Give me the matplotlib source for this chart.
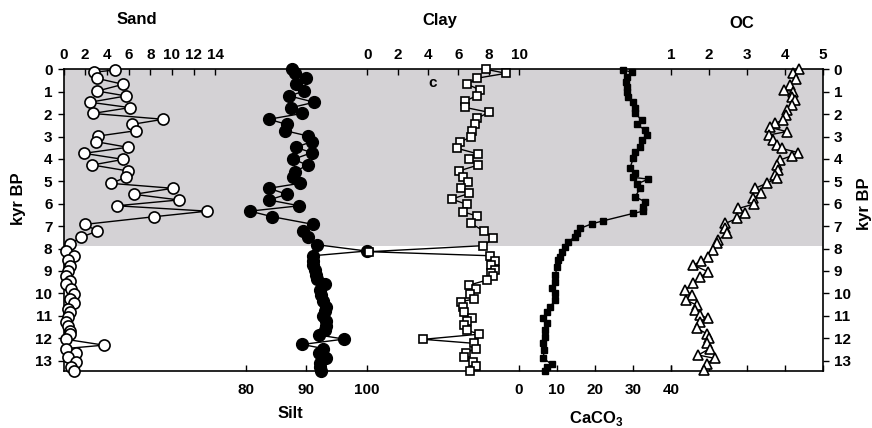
import numpy as np
import matplotlib.pyplot as plt

plt.rcParams['font.family'] = ['Liberation Sans', 'DejaVu Sans']
plt.rcParams['font.weight'] = 'bold'
plt.rcParams['mathtext.fontset'] = 'custom'
plt.rcParams['mathtext.bf'] = 'Liberation Sans:bold'
plt.rcParams['mathtext.rm'] = 'Liberation Sans:bold'

# ---- data (age in kyr BP, values in %) ----
sand_age = [0.03, 0.13, 0.40, 0.67, 0.97, 1.19, 1.47, 1.71, 1.97, 2.23, 2.46, 2.74, 2.98,
            3.23, 3.48, 3.75, 4.02, 4.27, 4.54, 4.82, 5.09, 5.31, 5.58, 5.83, 6.09, 6.33,
            6.58, 6.92, 7.22, 7.50, 7.81, 8.10, 8.33, 8.51, 8.77, 9.00, 9.23, 9.44, 9.60,
            9.82, 10.03, 10.25, 10.45, 10.70, 10.85, 11.04, 11.27, 11.46, 11.67, 11.82,
            12.05, 12.31, 12.46, 12.65, 12.86, 13.05, 13.28, 13.46]
sand = [4.75, 2.84, 3.06, 5.5, 3.12, 5.76, 2.44, 6.13, 2.69, 9.2, 6.29, 6.68, 3.18,
        3.0, 5.92, 1.89, 5.51, 2.66, 5.98, 5.76, 4.38, 10.07, 6.5, 10.65, 4.9, 13.26,
        8.34, 1.98, 3.12, 1.58, 0.6, 0.23, 0.97, 0.39, 0.6, 0.39, 0.2, 0.6, 0.23,
        0.69, 0.97, 0.57, 0.97, 0.45, 0.6, 0.45, 0.2, 0.45, 0.6, 0.6,
        0.23, 3.73, 0.23, 1.15, 0.45, 1.15, 0.69, 0.97]

silt_age = [0.0, 0.15, 0.40, 0.67, 0.97, 1.19, 1.47, 1.71, 1.97, 2.23, 2.46, 2.74, 2.98,
            3.23, 3.48, 3.72, 4.02, 4.27, 4.57, 4.82, 5.09, 5.31, 5.58, 5.83, 6.09, 6.33,
            6.58, 6.92, 7.22, 7.50, 7.83, 8.11, 8.32, 8.54, 8.74, 8.96, 9.18, 9.38, 9.60,
            9.85, 10.08, 10.33, 10.60, 10.79, 11.01, 11.24, 11.46, 11.64, 11.86, 12.04,
            12.28, 12.46, 12.65, 12.87, 13.10, 13.30, 13.47]
silt = [87.6, 88.1, 89.9, 88.3, 89.6, 87.2, 91.3, 87.5, 89.3, 83.8, 86.8, 86.5, 90.3,
        90.9, 88.2, 90.9, 87.8, 90.2, 88.1, 87.8, 88.9, 83.8, 86.8, 83.8, 88.8, 80.7,
        84.4, 91.1, 89.4, 90.3, 91.8, 99.9, 91.1, 91.1, 91.0, 91.4, 91.6, 91.8, 93.1,
        92.2, 92.4, 92.7, 93.2, 93.1, 92.8, 93.2, 93.2, 93.1, 92.1, 96.2,
        89.3, 92.8, 92.1, 93.3, 92.2, 92.2, 92.4]

clay_age = [0.0, 0.18, 0.40, 0.67, 0.92, 1.18, 1.42, 1.70, 1.92, 2.19, 2.46, 2.74, 3.01,
            3.26, 3.53, 3.78, 4.02, 4.27, 4.53, 4.79, 5.05, 5.29, 5.54, 5.79, 6.03, 6.36,
            6.54, 6.88, 7.22, 7.55, 7.87, 8.14, 8.32, 8.56, 8.74, 8.96, 9.11, 9.21, 9.41,
            9.63, 9.82, 10.03, 10.25, 10.37, 10.60, 10.82, 11.09, 11.24, 11.42, 11.64,
            11.82, 12.05, 12.23, 12.46, 12.65, 12.83, 13.08, 13.25, 13.47]
clay = [7.83, 9.14, 7.21, 6.6, 7.43, 7.21, 6.44, 6.44, 8.02, 7.21, 7.1, 6.92, 6.82,
        6.11, 5.94, 7.32, 6.71, 7.32, 6.07, 6.33, 6.66, 6.18, 6.71, 5.57, 6.55, 6.29,
        7.21, 6.84, 7.69, 8.31, 7.65, 0.12, 8.09, 8.42, 8.13, 8.42, 8.13, 8.31, 7.87,
        6.71, 7.17, 6.77, 7.04, 6.18, 6.29, 6.4, 6.88, 6.55, 6.4, 6.55,
        7.38, 3.7, 7.06, 7.15, 6.48, 6.38, 6.95, 7.17, 6.77]

caco3_age = [0.03, 0.13, 0.33, 0.55, 0.77, 1.0, 1.22, 1.47, 1.71, 1.97, 2.26, 2.46, 2.71,
             2.93, 3.16, 3.45, 3.68, 3.97, 4.42, 4.64, 4.82, 4.90, 5.12, 5.31, 5.69, 5.91,
             6.13, 6.33, 6.43, 6.76, 6.90, 7.10, 7.32, 7.47, 7.70, 7.92, 8.14, 8.37, 8.51,
             8.81, 9.18, 9.48, 9.78, 10.0, 10.3, 10.6, 10.82, 11.12, 11.34, 11.64, 11.94,
             12.23, 12.53, 12.90, 13.16, 13.30, 13.46]
caco3 = [27.5, 29.7, 28.4, 28.1, 28.5, 28.4, 28.8, 30.1, 30.6, 30.6, 32.3, 31.0, 33.2,
         33.6, 32.3, 31.9, 30.6, 30.1, 29.2, 30.6, 29.9, 34.1, 31.0, 31.9, 30.6, 33.2,
         32.7, 32.7, 30.1, 22.2, 19.1, 16.1, 15.2, 14.7, 13.0, 12.1, 11.2, 10.8, 10.4,
         10.1, 9.5, 9.5, 8.6, 9.5, 9.5, 8.2, 7.3, 6.4, 7.3, 6.9, 6.9,
         6.4, 6.6, 6.4, 8.6, 7.3, 6.9]

oc_age = [0.0, 0.18, 0.43, 0.70, 0.92, 1.0, 1.22, 1.37, 1.59, 1.82, 2.04, 2.26, 2.41,
          2.59, 2.78, 2.93, 3.16, 3.38, 3.53, 3.72, 3.86, 4.05, 4.27, 4.50, 4.72, 4.87,
          5.09, 5.31, 5.54, 5.76, 6.01, 6.21, 6.43, 6.65, 6.88, 7.10, 7.32, 7.62, 7.77,
          8.07, 8.37, 8.56, 8.74, 9.04, 9.26, 9.55, 9.85, 10.08, 10.30, 10.52, 10.75,
          10.97, 11.12, 11.27, 11.56, 11.79, 12.01, 12.23, 12.46, 12.75, 12.90, 13.13, 13.43]
oc = [4.38, 4.23, 4.30, 4.14, 3.98, 4.23, 4.18, 4.27, 4.18, 4.07, 4.03, 3.96, 3.74,
      3.61, 4.05, 3.59, 3.68, 3.79, 3.92, 4.36, 4.18, 3.87, 3.79, 3.83, 3.74, 3.79,
      3.52, 3.22, 3.37, 3.17, 3.19, 2.78, 2.95, 2.75, 2.43, 2.43, 2.47, 2.25, 2.21,
      2.12, 1.99, 1.79, 1.59, 1.99, 1.77, 1.59, 1.37, 1.55, 1.40, 1.68, 1.64,
      1.77, 1.99, 1.77, 1.68, 1.94, 2.01, 1.94, 2.03, 1.72, 2.16, 1.94, 1.87]

holocene_end = 7.9
age_ticks = list(range(0, 14))

fig = plt.figure(figsize=(8.72, 4.28), dpi=100)
ax = fig.add_axes([63.5 / 872, 57.3 / 428, 759.2 / 872, 301.4 / 428])
ax.axhspan(0, holocene_end, color='#d4d2d5', lw=0, zorder=0)
ax.set_ylim(13.45, 0)
ax.set_xlim(0, 1)
ax.set_xticks([])
ax.set_yticks(age_ticks)
ax.tick_params(axis='y', left=True, right=True, labelleft=True, labelright=True,
               direction='out', length=4, width=1, labelsize=11, pad=4)
for s in ax.spines.values():
    s.set_linewidth(1.2)

tick_kw = dict(direction='in', length=4, width=1, labelsize=11)


def layer(xlim, x, y, **style):
    a = ax.twiny()
    a.set_xlim(*xlim)
    for s in a.spines.values():
        s.set_visible(False)
    a.plot(x, y, color='black', lw=1, clip_on=False, **style)
    return a


# Sand (top axis)
a = layer((0, 70), sand, sand_age, marker='o', ms=8, mfc='white', mec='black', mew=1.2)
a.set_xticks(range(0, 15, 2))
a.tick_params(axis='x', top=True, bottom=False, labeltop=True, labelbottom=False, pad=5, **tick_kw)

# Silt (bottom axis)
a = layer((50, 175), silt, silt_age, marker='o', ms=8.5, mfc='black', mec='black')
a.set_xticks([80, 90, 100])
a.tick_params(axis='x', top=False, bottom=True, labeltop=False, labelbottom=True, pad=9, **tick_kw)

# Clay (top axis)
a = layer((-20, 30), clay, clay_age, marker='s', ms=6, mfc='white', mec='black', mew=1.2)
a.set_xticks(range(0, 11, 2))
a.tick_params(axis='x', top=True, bottom=False, labeltop=True, labelbottom=False, pad=5, **tick_kw)

# CaCO3 (bottom axis)
a = layer((-120, 80), caco3, caco3_age, marker='s', ms=4.5, mfc='black', mec='black')
a.set_xticks(range(0, 41, 10))
a.tick_params(axis='x', top=False, bottom=True, labeltop=False, labelbottom=True, pad=9, **tick_kw)

# OC (top axis, ticks mirrored at bottom)
a = layer((-15, 5), oc, oc_age, marker='^', ms=7, mfc='white', mec='black', mew=1.2)
a.set_xticks(range(1, 6))
a.tick_params(axis='x', top=True, bottom=True, labeltop=True, labelbottom=False, pad=5, **tick_kw)

# titles and labels
fig.text(137 / 872, 1 - 20 / 428, 'Sand', ha='center', va='center', fontsize=12, fontweight='bold')
fig.text(440 / 872, 1 - 20 / 428, 'Clay', ha='center', va='center', fontsize=12, fontweight='bold')
fig.text(742 / 872, 1 - 24 / 428, 'OC', ha='center', va='center', fontsize=12, fontweight='bold')
fig.text(290 / 872, 1 - 413 / 428, 'Silt', ha='center', va='center', fontsize=12, fontweight='bold')
fig.text(596 / 872, 1 - 419 / 428, r'CaCO$_\mathbf{3}$', ha='center', va='center', fontsize=12,
         fontweight='bold')
fig.text(18 / 872, 1 - 199 / 428, 'kyr BP', ha='center', va='center', rotation=90, fontsize=12,
         fontweight='bold')
fig.text(864 / 872, 1 - 204 / 428, 'kyr BP', ha='center', va='center', rotation=90, fontsize=12,
         fontweight='bold')
fig.text(433 / 872, 1 - 83 / 428, 'c', ha='center', va='center', fontsize=11, fontweight='bold')

fig.savefig('out.png', dpi=100)
